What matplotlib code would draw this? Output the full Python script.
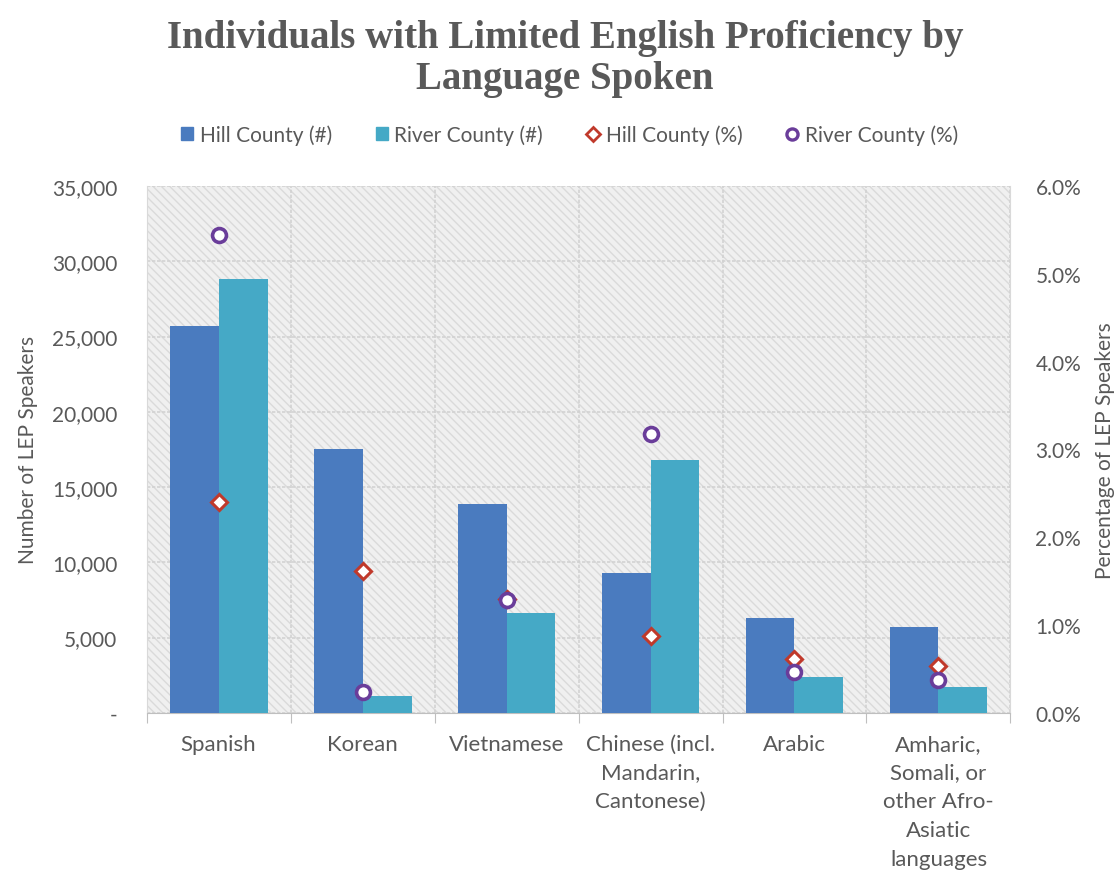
import matplotlib
matplotlib.use("Agg")
import matplotlib.pyplot as plt
import numpy as np
from matplotlib.patches import Rectangle
from matplotlib.lines import Line2D
from matplotlib.ticker import FuncFormatter, FixedLocator

categories = ["Spanish", "Korean", "Vietnamese", "Chinese (incl.\nMandarin,\nCantonese)",
              "Arabic", "Amharic,\nSomali, or\nother Afro-\nAsiatic\nlanguages"]
hill_count = [25700, 17500, 13900, 9300, 6300, 5700]
river_count = [28800, 1100, 6650, 16800, 2400, 1700]
hill_pct = [2.40, 1.61, 1.30, 0.88, 0.61, 0.53]
river_pct = [5.44, 0.24, 1.28, 3.17, 0.46, 0.37]

series_names = ["Hill County (#)", "River County (#)", "Hill County (%)", "River County (%)"]

c_hill = "#4a7bbf"
c_river = "#45a9c6"
c_hill_m = "#c0392b"
c_river_m = "#6a3d9a"
txt = "#595959"
font = "Lato"
fs = 16
fs_y = 15

fig = plt.figure(figsize=(11.19, 8.78), dpi=100)
ax = fig.add_axes([0.131, 0.187, 0.772, 0.600])
n = len(categories)
x = np.arange(n)
w = 0.34

# background with diagonal hatch
ax.set_facecolor("#f0f0f0")
ax.add_patch(Rectangle((0, 0), 1, 1, transform=ax.transAxes, facecolor="none",
                       edgecolor="#dadada", hatch="\\\\\\\\", linewidth=0, zorder=0))

ax.bar(x - w / 2, hill_count, w, color=c_hill, zorder=3, label=series_names[0])
ax.bar(x + w / 2, river_count, w, color=c_river, zorder=3, label=series_names[1])

ax.set_xlim(-0.5, n - 0.5)
ax.set_ylim(0, 35000)
ax.set_yticks(np.arange(0, 35001, 5000))
ax.yaxis.set_major_formatter(FuncFormatter(lambda v, p: "-" if v == 0 else f"{int(v):,}"))
ax.set_xticks(np.arange(-0.5, n, 1.0))
ax.set_xticklabels([])
ax.xaxis.set_minor_locator(FixedLocator(x))
ax.set_xticklabels(categories, minor=True, fontsize=fs, color=txt, family=font,
                   linespacing=1.55, va="top")
ax.tick_params(axis="x", which="minor", length=0, pad=15)
ax.tick_params(axis="x", which="major", length=7, color="#bfbfbf")
ax.tick_params(axis="y", length=0, labelsize=fs_y, labelcolor=txt, pad=21)
for lab in ax.get_yticklabels():
    lab.set_family(font)

ax.grid(True, axis="y", color="#d2d2d2", linewidth=1.2, linestyle=(0, (2, 1)), zorder=1)
ax.grid(True, axis="x", which="major", color="#d2d2d2", linewidth=1.2, linestyle=(0, (2, 1)), zorder=1)
ax.set_axisbelow(True)
ax.spines["top"].set_visible(False)
ax.spines["left"].set_color("#d9d9d9")
ax.spines["right"].set_color("#d9d9d9")
ax.spines["bottom"].set_color("#bfbfbf")

ax.set_ylabel("Number of LEP Speakers", fontsize=fs_y, color=txt, family=font, labelpad=10)

ax2 = ax.twinx()
ax2.set_ylim(0, 6.0)
ax2.set_yticks(np.arange(0, 6.01, 1.0))
ax2.yaxis.set_major_formatter(FuncFormatter(lambda v, p: f"{v:.1f}%"))
ax2.tick_params(axis="y", length=0, labelsize=fs_y, labelcolor=txt, pad=18)
for lab in ax2.get_yticklabels():
    lab.set_family(font)
for s in ["top", "left", "bottom", "right"]:
    ax2.spines[s].set_visible(False)
ax2.plot(x, hill_pct, linestyle="none", marker="D", markersize=8, markerfacecolor="white",
         markeredgecolor=c_hill_m, markeredgewidth=2.2, zorder=5, label=series_names[2])
ax2.plot(x, river_pct, linestyle="none", marker="o", markersize=10, markerfacecolor="white",
         markeredgecolor=c_river_m, markeredgewidth=2.6, zorder=6, label=series_names[3])
ax2.set_ylabel("Percentage of LEP Speakers", fontsize=fs_y, color=txt, family=font,
               rotation=90, labelpad=10)

handles = [
    Rectangle((0, 0), 1, 1, color=c_hill),
    Rectangle((0, 0), 1, 1, color=c_river),
    Line2D([], [], linestyle="none", marker="D", markersize=7, markerfacecolor="white",
           markeredgecolor=c_hill_m, markeredgewidth=2),
    Line2D([], [], linestyle="none", marker="o", markersize=8, markerfacecolor="white",
           markeredgecolor=c_river_m, markeredgewidth=2.4),
]
leg = fig.legend(handles, series_names, loc="center", bbox_to_anchor=(0.509, 0.846), ncol=4,
                 frameon=False, handlelength=0.6, handleheight=0.6,
                 handletextpad=0.3, columnspacing=2.1, prop={"family": font, "size": 15})
for t in leg.get_texts():
    t.set_color(txt)

fig.text(0.505, 0.933, "Individuals with Limited English Proficiency by\nLanguage Spoken",
         ha="center", va="center", fontsize=28, fontweight="bold", family="Liberation Serif",
         color=txt, linespacing=1.12)

fig.savefig("out.png", dpi=100, facecolor="white")
